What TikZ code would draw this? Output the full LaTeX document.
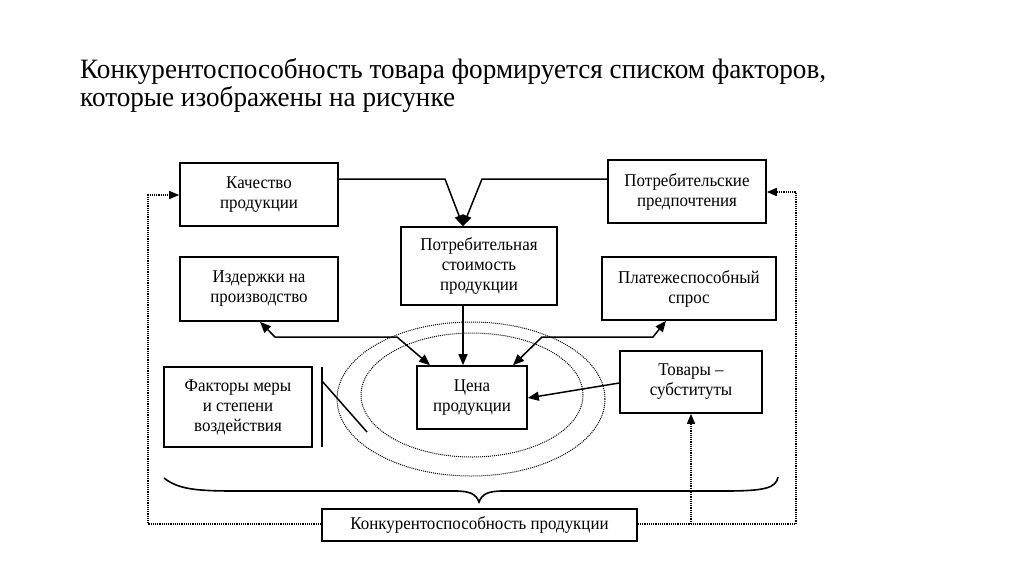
\documentclass[tikz,border=0pt]{standalone}
\usepackage{fontspec}
\setmainfont{Liberation Serif}
\newfontfamily\narrowserif[FakeStretch=0.94]{Liberation Serif}
\newfontfamily\titleserif[FakeStretch=0.97]{Liberation Serif}
\usetikzlibrary{arrows.meta,calc}
\begin{document}
\begin{tikzpicture}[x=1pt,y=-1pt,
  box/.style={draw, line width=1.6pt, align=center, inner sep=0pt,
              font=\narrowserif\fontsize{18}{20}\selectfont},
  conn/.style={line width=1.5pt},
  arr/.style={conn, -{Triangle[length=11pt,width=9pt]}},
  arrboth/.style={conn, {Triangle[length=11pt,width=9pt]}-{Triangle[length=11pt,width=9pt]}},
  dotl/.style={line width=1.4pt, dash pattern=on 1.2pt off 1pt},
  dotarr/.style={dotl, -{Triangle[length=10pt,width=8pt]}},
  ell/.style={line width=1pt, dash pattern=on 1pt off 1pt},
  titletext/.style={anchor=base west, inner sep=0pt, font=\titleserif\fontsize{28}{28}\selectfont}
]
\useasboundingbox (0,0) rectangle (1024,574);
\fill[white] (0,0) rectangle (1024,574);

% title
\node[titletext] (title1) at (80,78) {Конкурентоспособность товара формируется списком факторов,};
\node[titletext] (title2) at (80,106) {которые изображены на рисунке};

% ellipses
\draw[ell] (471,399) ellipse [x radius=134pt, y radius=77pt];
\draw[ell] (472,395) ellipse [x radius=111pt, y radius=62pt];

% boxes
\node[box, minimum width=158pt, minimum height=63pt] (kach)  at (259,194.5) {Качество\\продукции};
\node[box, minimum width=156pt, minimum height=78pt] (stoim) at (479,266)   {Потребительная\\стоимость\\продукции};
\node[box, minimum width=158pt, minimum height=64pt] (izd)   at (259,289)   {Издержки на\\производство};
\node[box, minimum width=158pt, minimum height=63pt] (potpr) at (687,191.5) {Потребительские\\предпочтения};
\node[box, minimum width=174pt, minimum height=63pt] (plat)  at (689,288.5) {Платежеспособный\\спрос};
\node[box, minimum width=148pt, minimum height=80pt] (fakt)  at (238,407)   {Факторы меры\\и степени\\воздействия};
\node[box, minimum width=110pt, minimum height=63pt] (cena)  at (472,397.5) {Цена\\продукции};
\node[box, minimum width=142pt, minimum height=62pt] (tov)   at (691,382)   {Товары –\\субституты};
\node[box, minimum width=315pt, minimum height=32pt] (konk)  at (479.5,525) {Конкурентоспособность продукции};

% coordinates
\coordinate (j1) at (445,179);
\coordinate (j2) at (482,179);
\coordinate (t1) at (463,227);
\coordinate (a0) at (260,321);
\coordinate (c1) at (275,337);
\coordinate (c2) at (397,337);
\coordinate (c3) at (430,366);
\coordinate (p0) at (666,321);
\coordinate (p1) at (653,337);
\coordinate (p2) at (542,337);
\coordinate (p3) at (513,366);
\coordinate (q1) at (620,383);
\coordinate (q2) at (528,398);
\coordinate (dl) at (148,524);
\coordinate (dlt) at (148,195);
\coordinate (dr) at (796,524);
\coordinate (drt) at (796,192);
\coordinate (dv) at (691,524);

% connectors
\draw[arr] (kach.east |- j1) -- (j1) -- (t1 |- stoim.north);
\draw[arr] (potpr.west |- j2) -- (j2) -- (t1 |- stoim.north);
\draw[arr] (stoim.south -| t1) -- (cena.north -| t1);
\draw[arrboth] (izd.south -| a0) -- (c1) -- (c2) -- (cena.north -| c3);
\draw[arrboth] (plat.south -| p0) -- (p1) -- (p2) -- (cena.north -| p3);
\draw[arr] (tov.west |- q1) -- (cena.east |- q2);

% separator lines near factors box
\draw[conn] (322,367) -- (322,447);
\draw[conn] (322,381) -- (367,432);

% brace
\draw[line width=1.6pt] (164,478) .. controls (178,489) and (195,491) .. (235,491)
  -- (455,491) .. controls (470,491) and (476,494) .. (479,502)
  .. controls (482,494) and (488,491) .. (503,491)
  -- (725,491) .. controls (765,491) and (776,488) .. (778,477);

% dotted feedback lines
\draw[dotarr] (konk.west |- dl) -- (dl) -- (dlt) -- (kach.west |- dlt);
\draw[dotarr] (konk.east |- dr) -- (dr) -- (drt) -- (potpr.east |- drt);
\draw[dotarr] (dv) -- (tov.south);
\end{tikzpicture}
\end{document}
